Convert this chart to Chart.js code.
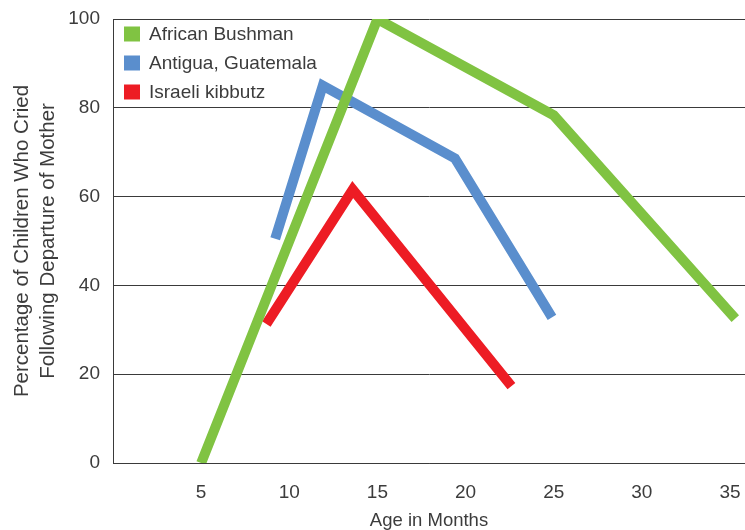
<!DOCTYPE html>
<html>
<head>
<meta charset="utf-8">
<script src="https://cdn.jsdelivr.net/npm/chart.js@4.4.1/dist/chart.umd.min.js"></script>
<style>
  html, body { margin: 0; padding: 0; background: #ffffff; }
  #wrap { width: 745px; height: 530px; position: relative; }
</style>
</head>
<body>
<div id="wrap"><canvas id="chart" width="745" height="530"></canvas></div>
<script>
// Series: age in months and percentage of children who cried
const seriesNames = ['African Bushman', 'Antigua, Guatemala', 'Israeli kibbutz'];
const bushmanAge = [5, 15, 25, 35.3];
const bushmanPct = [0, 100, 78.3, 32.5];
const antiguaAge = [9.2, 11.9, 19.4, 24.9];
const antiguaPct = [50.5, 85, 68.6, 32.8];
const kibbutzAge = [8.7, 13.6, 22.6];
const kibbutzPct = [31.3, 61.6, 17.3];

const xTicks = [5, 10, 15, 20, 25, 30, 35];
const yTicks = [0, 20, 40, 60, 80, 100];

const colors = ['#80c342', '#5a8ecd', '#ed1c24'];
const textColor = '#3c3c3c';
const fontFamily = '"Liberation Sans", Arial, Helvetica, sans-serif';

function toPoints(xs, ys) {
  return xs.map((x, i) => ({ x: x, y: ys[i] }));
}

const seriesData = [
  toPoints(bushmanAge, bushmanPct),
  toPoints(antiguaAge, antiguaPct),
  toPoints(kibbutzAge, kibbutzPct)
];

// Legend drawn inside the plot area, top-left
const insideLegend = {
  id: 'insideLegend',
  afterDraw(chart, args, opts) {
    const { ctx, chartArea } = chart;
    ctx.save();
    ctx.font = '19px ' + fontFamily;
    ctx.textBaseline = 'middle';
    ctx.textAlign = 'left';
    chart.data.datasets.forEach((ds, i) => {
      const cy = chartArea.top + opts.offsetY + i * opts.rowGap;
      const x0 = chartArea.left + opts.offsetX;
      ctx.fillStyle = ds.borderColor;
      ctx.fillRect(x0, cy - opts.box / 2, opts.box, opts.box - 1);
      ctx.fillStyle = textColor;
      ctx.fillText(ds.label, x0 + opts.box + 9, cy);
    });
    ctx.restore();
  }
};

new Chart(document.getElementById('chart'), {
  type: 'line',
  data: {
    datasets: seriesNames.map((name, i) => ({
      label: name,
      data: seriesData[i],
      borderColor: colors[i],
      backgroundColor: colors[i],
      borderWidth: 10,
      borderCapStyle: 'butt',
      borderJoinStyle: 'miter',
      pointRadius: 0,
      pointHoverRadius: 0,
      tension: 0,
      fill: false,
      clip: { left: 10, top: 0, right: 10, bottom: 0 }
    }))
  },
  options: {
    responsive: false,
    animation: false,
    events: [],
    layout: { padding: { top: 19, right: 0, bottom: 0, left: 0 } },
    plugins: {
      legend: { display: false },
      tooltip: { enabled: false },
      insideLegend: { offsetX: 11, offsetY: 15.5, rowGap: 29, box: 16 }
    },
    scales: {
      x: {
        type: 'linear',
        min: 0,
        max: 35.85,
        afterBuildTicks: (scale) => { scale.ticks = xTicks.map(v => ({ value: v })); },
        afterFit: (scale) => {
          scale.height = 67;
          scale.paddingLeft = 0;
          scale.paddingRight = 0;
        },
        grid: { display: false, drawTicks: false },
        border: { display: true, color: '#3a3a3a', width: 1 },
        ticks: {
          padding: 18,
          color: textColor,
          font: { family: fontFamily, size: 19, lineHeight: 1.2 },
          maxRotation: 0
        },
        title: {
          display: true,
          text: 'Age in Months',
          color: textColor,
          font: { family: fontFamily, size: 18.5, lineHeight: 1 },
          padding: { top: 0, bottom: 0 }
        }
      },
      y: {
        type: 'linear',
        min: 0,
        max: 100,
        afterBuildTicks: (scale) => { scale.ticks = yTicks.map(v => ({ value: v })); },
        afterFit: (scale) => {
          scale.width = 113;
          scale.paddingTop = 0;
          scale.paddingBottom = 0;
        },
        grid: { color: '#3a3a3a', lineWidth: 1, drawTicks: false },
        border: { display: true, color: '#3a3a3a', width: 1 },
        ticks: {
          padding: 13,
          color: textColor,
          font: { family: fontFamily, size: 19 }
        },
        title: {
          display: true,
          text: ['Percentage of Children Who Cried', 'Following Departure of Mother'],
          color: textColor,
          font: { family: fontFamily, size: 20.5, lineHeight: 1.27 },
          padding: { top: 9, bottom: 0 }
        }
      }
    }
  },
  plugins: [insideLegend]
});
</script>
</body>
</html>
